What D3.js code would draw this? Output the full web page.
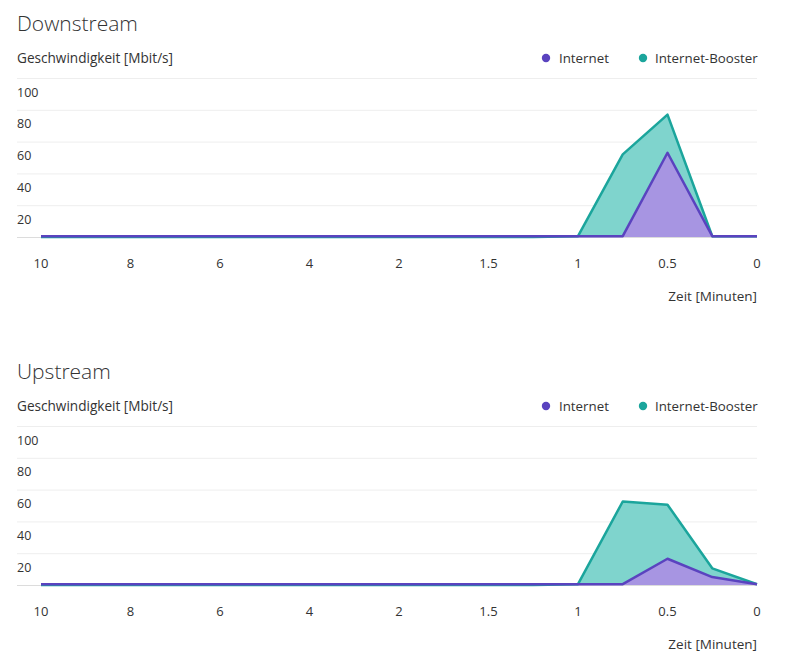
<!DOCTYPE html>
<html>
<head>
<meta charset="utf-8">
<script src="https://cdn.jsdelivr.net/npm/d3@7/dist/d3.min.js"></script>
<style>
  html, body { margin: 0; padding: 0; background: #fff; }
  svg { display: block; font-family: "Open Sans", "Noto Sans", sans-serif; }
</style>
</head>
<body>
<svg id="chart" width="802" height="666"></svg>
<script>
// ---- Data ----
const timeLabels = ["10","9","8","7","6","5","4","3","2","1.75","1.5","1.25","1","0.75","0.5","0.25","0"];
const tickLabels = ["10","8","6","4","2","1.5","1","0.5","0"];
const yTicks = [20, 40, 60, 80, 100];
const seriesNames = ["Internet", "Internet-Booster"];

const downInternet = [0.5,0.5,0.5,0.5,0.5,0.5,0.5,0.5,0.5,0.5,0.5,0.5,0.5,0.5,53,0.5,0.5];
const downBooster  = [0,0,0,0,0,0,0,0,0,0,0,0,0.5,52,77,0.5,0.5];
const upInternet   = [0.5,0.5,0.5,0.5,0.5,0.5,0.5,0.5,0.5,0.5,0.5,0.5,0.5,0.5,16.5,5,0.5];
const upBooster    = [0,0,0,0,0,0,0,0,0,0,0,0,0.5,52.5,50.5,10.5,0.5];

const panels = [
  { title: "Downstream", internet: downInternet, booster: downBooster },
  { title: "Upstream",   internet: upInternet,   booster: upBooster }
];

// ---- Styles ----
const colInternetLine = "#5a43bf";
const colInternetFill = "#a795e2";
const colBoosterLine  = "#1ba59c";
const colBoosterFill  = "#7fd4cd";
const textCol = "#333";

const svg = d3.select("#chart");

const x = d3.scalePoint().domain(d3.range(timeLabels.length)).range([41, 757]);
const y = d3.scaleLinear().domain([0, 100]).range([237, 78]);

panels.forEach((p, pi) => {
  const g = svg.append("g").attr("transform", `translate(0,${pi * 348})`);

  g.append("text").attr("x", 17).attr("y", 31)
    .attr("font-size", 21).attr("font-weight", 300).attr("fill", textCol)
    .text(p.title);

  g.append("text").attr("x", 17).attr("y", 62.5)
    .attr("font-size", 13.6).attr("fill", textCol)
    .text("Geschwindigkeit [Mbit/s]");

  // legend
  const legend = [
    { name: seriesNames[0], color: colInternetLine, cx: 546, tx: 559 },
    { name: seriesNames[1], color: colBoosterLine,  cx: 643, tx: 655 }
  ];
  legend.forEach(l => {
    g.append("circle").attr("cx", l.cx).attr("cy", 58).attr("r", 4.2).attr("fill", l.color);
    g.append("text").attr("x", l.tx).attr("y", 62.5).attr("font-size", 13.3).attr("fill", textCol).text(l.name);
  });

  // gridlines
  const grid = [0].concat(yTicks);
  g.selectAll(".grid").data(grid).enter().append("line")
    .attr("x1", 17).attr("x2", 757)
    .attr("y1", d => y(d) + 0.5).attr("y2", d => y(d) + 0.5)
    .attr("stroke", d => d === 0 ? "#dcdcdc" : "#eeeeee").attr("stroke-width", 1);

  g.selectAll(".ylab").data(yTicks).enter().append("text")
    .attr("x", 17).attr("y", d => y(d) + 18.5)
    .attr("font-size", 12.5).attr("fill", textCol)
    .text(d => d);

  // x labels
  g.selectAll(".xlab").data(tickLabels).enter().append("text")
    .attr("x", d => x(timeLabels.indexOf(d)))
    .attr("y", 268)
    .attr("text-anchor", "middle").attr("font-size", 13).attr("fill", textCol)
    .text(d => d);

  g.append("text").attr("x", 757).attr("y", 301)
    .attr("text-anchor", "end").attr("font-size", 13.5).attr("fill", textCol)
    .text("Zeit [Minuten]");

  const area = d3.area().x((d, i) => x(i)).y0(y(0)).y1(d => y(d));
  const line = d3.line().x((d, i) => x(i)).y(d => y(d));

  g.append("path").datum(p.booster).attr("d", area).attr("fill", colBoosterFill);
  g.append("path").datum(p.booster).attr("d", line).attr("fill", "none")
    .attr("stroke", colBoosterLine).attr("stroke-width", 2.5).attr("stroke-linejoin", "round");
  g.append("path").datum(p.internet).attr("d", area).attr("fill", colInternetFill);
  g.append("path").datum(p.internet).attr("d", line).attr("fill", "none")
    .attr("stroke", colInternetLine).attr("stroke-width", 2.5).attr("stroke-linejoin", "round");
});
</script>
</body>
</html>
